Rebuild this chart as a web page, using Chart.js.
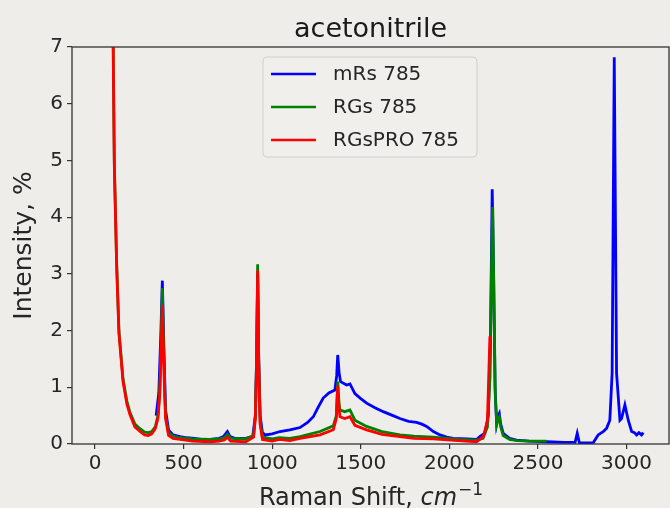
<!DOCTYPE html>
<html>
<head>
<meta charset="utf-8">
<script src="https://cdn.jsdelivr.net/npm/chart.js@4.4.1/dist/chart.umd.min.js"></script>
<style>
	body{margin:0;background:#eeede9}
	#wrap{width:670px;height:508px}
</style>
</head>
<body>
<div id="wrap"><canvas id="myChart" width="670" height="508"></canvas></div>
<script>
"use strict"
// spectra (x = Raman shift, y = intensity %)
const mrsX=[345,360,372,380,388,398,415,440,480,520,560,600,650,700,725,747,762,790,850,890,905,912,918,924,932,945,960,1000,1044,1100,1157,1200,1232,1260,1288,1320,1354,1364,1370,1378,1386,1420,1439,1467,1500,1533,1580,1627,1675,1721,1770,1815,1845,1872,1910,1947,1985,2022,2100,2154,2172,2200,2220,2232,2242,2250,2258,2267,2276,2282,2290,2304,2340,2380,2450,2550,2650,2710,2722,2734,2812,2840,2870,2888,2906,2919,2931,2944,2963,2972,2991,3010,3029,3045,3057,3070,3085,3095]
const mrsY=[0.5,0.9,2.0,2.88,1.8,0.6,0.25,0.16,0.13,0.11,0.1,0.08,0.08,0.1,0.13,0.22,0.13,0.1,0.1,0.13,0.5,1.5,3.0,1.5,0.5,0.2,0.16,0.18,0.22,0.25,0.29,0.38,0.48,0.65,0.81,0.9,0.95,1.2,1.57,1.25,1.1,1.04,1.06,0.89,0.8,0.72,0.64,0.57,0.51,0.45,0.4,0.38,0.35,0.31,0.22,0.16,0.12,0.1,0.09,0.08,0.13,0.19,0.5,1.8,4.49,3.0,1.0,0.36,0.5,0.54,0.35,0.19,0.1,0.07,0.05,0.04,0.03,0.03,0.19,0.02,0.02,0.16,0.22,0.28,0.42,1.25,6.82,1.25,0.42,0.45,0.69,0.42,0.22,0.2,0.16,0.2,0.16,0.2]

const rgsX=[98,104,109,122,135,158,180,197,225,254,280,300,320,340,355,365,373,380,388,398,415,440,480,550,650,700,730,747,765,850,895,905,912,918,924,932,945,1000,1040,1100,1157,1270,1345,1362,1370,1378,1383,1410,1439,1467,1533,1620,1721,1800,1909,2050,2154,2190,2215,2230,2240,2245,2252,2260,2268,2276,2282,2290,2304,2340,2380,2450,2549]
const rgsY=[9,6.5,4.95,3.19,2.0,1.15,0.75,0.56,0.35,0.27,0.21,0.2,0.22,0.3,0.5,0.9,1.8,2.75,1.6,0.5,0.2,0.14,0.11,0.09,0.08,0.09,0.11,0.17,0.1,0.09,0.15,0.5,1.5,3.17,1.5,0.4,0.12,0.09,0.11,0.1,0.13,0.22,0.32,0.5,1.1,0.7,0.6,0.57,0.6,0.42,0.31,0.22,0.16,0.14,0.12,0.08,0.07,0.1,0.3,1.2,3.5,4.18,2.5,0.8,0.35,0.45,0.48,0.3,0.15,0.08,0.06,0.05,0.05]

const proX=[98,104,109,122,135,158,180,197,225,254,280,300,320,340,355,365,373,380,388,398,415,440,480,550,650,700,730,747,765,850,895,905,912,918,924,932,945,1000,1040,1100,1157,1270,1345,1362,1370,1378,1383,1410,1439,1467,1533,1620,1721,1800,1909,2050,2154,2192,2215,2229]
const proY=[9,6.4,4.9,3.15,1.95,1.1,0.7,0.52,0.3,0.22,0.16,0.15,0.18,0.27,0.45,0.85,1.6,2.45,1.4,0.45,0.15,0.1,0.08,0.05,0.04,0.05,0.07,0.12,0.05,0.04,0.12,0.45,1.4,3.06,1.4,0.35,0.08,0.05,0.08,0.06,0.1,0.16,0.25,0.45,1.03,0.6,0.48,0.45,0.48,0.33,0.25,0.17,0.13,0.1,0.09,0.06,0.04,0.13,0.4,1.9]

const seriesNames=['mRs 785','RGs 785','RGsPRO 785']
const seriesColors=['#0000ff','#008000','#ff0000']
const xTicks=[0,500,1000,1500,2000,2500,3000]
const yTicks=[0,1,2,3,4,5,6,7]
const chartTitle='acetonitrile'
const yTitle='Intensity, %'

let pts=(xs,ys)=>xs.map((x,i)=>({x:x,y:ys[i]}))
let font=(size,style)=>(style||'')+' '+size+'px "DejaVu Sans"'

// title, axis titles, frame and legend box, drawn like matplotlib does
let deco={
	id:'deco',
	afterDatasetsDraw(chart){
		const c=chart.ctx, a=chart.chartArea
		c.save()
		c.strokeStyle='#333'
		c.lineWidth=1.3
		c.strokeRect(a.left,a.top,a.right-a.left,a.bottom-a.top)
		// legend
		let lx=263, ly=57, lw=214, lh=100
		c.beginPath()
		c.roundRect(lx,ly,lw,lh,4)
		c.fillStyle='rgba(240,239,235,0.85)'
		c.fill()
		c.strokeStyle='#cfcfcf'
		c.lineWidth=1
		c.stroke()
		c.font=font(20)
		c.textBaseline='middle'
		seriesNames.forEach((n,i)=>{
			let y=ly+17+i*33
			c.strokeStyle=seriesColors[i]
			c.lineWidth=2.5
			c.beginPath()
			c.moveTo(lx+8,y)
			c.lineTo(lx+53,y)
			c.stroke()
			c.fillStyle='#262626'
			c.fillText(n,lx+70,y+1)
		})
		// title
		c.fillStyle='#1a1a1a'
		c.textAlign='center'
		c.textBaseline='alphabetic'
		c.font=font(27)
		c.fillText(chartTitle,(a.left+a.right)/2,37)
		// y title
		c.save()
		c.translate(24,(a.top+a.bottom)/2)
		c.rotate(-Math.PI/2)
		c.font=font(25)
		c.textBaseline='middle'
		c.fillStyle='#262626'
		c.fillText(yTitle,0,0)
		c.restore()
		// x title with italic cm and superscript -1
		let p1='Raman Shift, ', p2='cm', p3='\u22121'
		c.textAlign='left'
		c.fillStyle='#262626'
		c.font=font(24)
		let w1=c.measureText(p1).width
		c.font=font(24,'oblique')
		let w2=c.measureText(p2).width
		c.font=font(17)
		let w3=c.measureText(p3).width
		let x0=(a.left+a.right)/2-(w1+w2+w3)/2, yb=505
		c.font=font(24)
		c.fillText(p1,x0,yb)
		c.font=font(24,'oblique')
		c.fillText(p2,x0+w1,yb)
		c.font=font(17)
		c.fillText(p3,x0+w1+w2+1,yb-10)
		c.restore()
	}
}

let mk=(i,xs,ys,ord)=>({
	label:seriesNames[i],
	data:pts(xs,ys),
	borderColor:seriesColors[i],
	borderWidth:2.8,
	pointRadius:0,
	tension:0,
	fill:false,
	clip:0,
	order:ord
})

new Chart(document.getElementById('myChart'),{
	type:'line',
	data:{datasets:[mk(2,proX,proY,1),mk(1,rgsX,rgsY,2),mk(0,mrsX,mrsY,3)]},
	options:{
		responsive:false,
		animation:false,
		devicePixelRatio:1,
		layout:{padding:{top:47,right:1,left:0,bottom:0}},
		plugins:{legend:{display:false},tooltip:{enabled:false}},
		scales:{
			x:{
				type:'linear',min:-130,max:3240,
				afterBuildTicks:s=>{s.ticks=xTicks.map(v=>({value:v}))},
				afterFit:s=>{s.height=64},
				border:{display:false},
				grid:{drawOnChartArea:false,drawTicks:true,tickLength:5,color:'#333',lineWidth:1.2},
				ticks:{font:{family:'DejaVu Sans',size:20},color:'#262626',padding:3,maxRotation:0,callback:v=>String(v)}
			},
			y:{
				min:0,max:7,
				afterBuildTicks:s=>{s.ticks=yTicks.map(v=>({value:v}))},
				afterFit:s=>{s.width=72},
				border:{display:false},
				grid:{drawOnChartArea:false,drawTicks:true,tickLength:5,color:'#333',lineWidth:1.2},
				ticks:{font:{family:'DejaVu Sans',size:20},color:'#262626',padding:4,callback:v=>String(v)}
			}
		}
	},
	plugins:[deco]
})
</script>
</body>
</html>
